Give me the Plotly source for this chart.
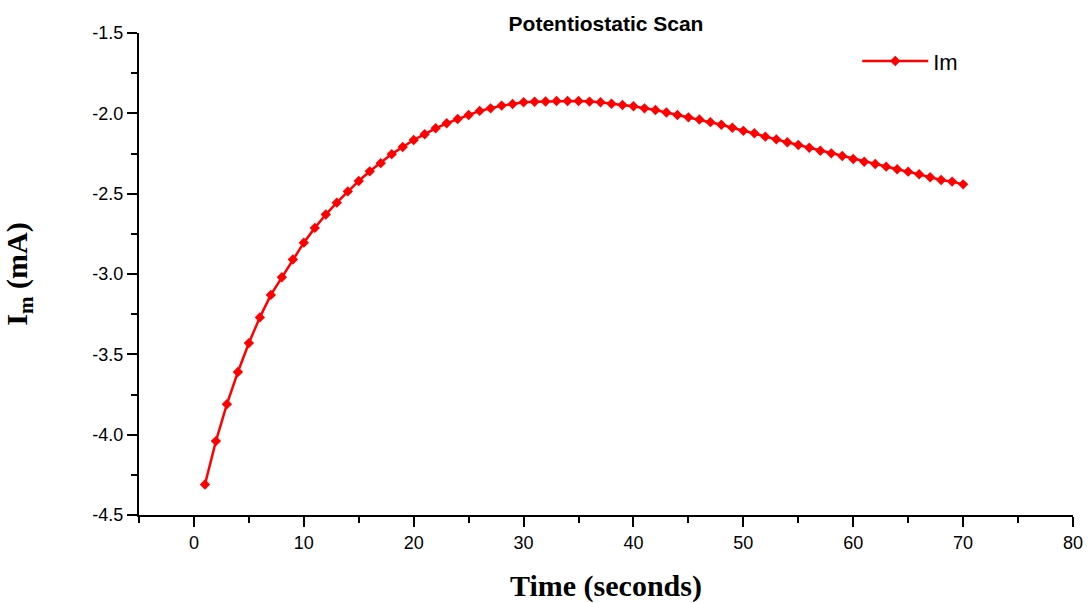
import plotly.graph_objects as go

time_s = [1, 2, 3, 4, 5, 6, 7, 8, 9, 10,
          11, 12, 13, 14, 15, 16, 17, 18, 19, 20,
          21, 22, 23, 24, 25, 26, 27, 28, 29, 30,
          31, 32, 33, 34, 35, 36, 37, 38, 39, 40,
          41, 42, 43, 44, 45, 46, 47, 48, 49, 50,
          51, 52, 53, 54, 55, 56, 57, 58, 59, 60,
          61, 62, 63, 64, 65, 66, 67, 68, 69, 70]
im_mA = [-4.31, -4.04, -3.81, -3.61, -3.43, -3.27, -3.13, -3.02, -2.91, -2.805,
         -2.713, -2.630, -2.556, -2.486, -2.421, -2.361, -2.310, -2.254, -2.210, -2.166,
         -2.130, -2.093, -2.062, -2.035, -2.010, -1.985, -1.969, -1.952, -1.942, -1.931,
         -1.928, -1.926, -1.923, -1.923, -1.923, -1.927, -1.931, -1.940, -1.948, -1.956,
         -1.969, -1.979, -1.995, -2.010, -2.025, -2.038, -2.055, -2.071, -2.090, -2.109,
         -2.124, -2.145, -2.162, -2.180, -2.197, -2.214, -2.233, -2.249, -2.266, -2.284,
         -2.301, -2.315, -2.332, -2.348, -2.363, -2.379, -2.398, -2.415, -2.425, -2.442]

y_tick_vals = [-4.5, -4.0, -3.5, -3.0, -2.5, -2.0, -1.5]
y_tick_text = ["-4.5", "-4.0", "-3.5", "-3.0", "-2.5", "-2.0", "-1.5"]
x_tick_vals = [0, 10, 20, 30, 40, 50, 60, 70, 80]
x_tick_text = ["0", "10", "20", "30", "40", "50", "60", "70", "80"]

fig = go.Figure()
fig.add_trace(go.Scatter(
    x=time_s, y=im_mA, mode="lines+markers", name="Im",
    line=dict(color="#FF0000", width=2.5),
    marker=dict(symbol="diamond", size=8, color="#FF0000"),
))

axis_common = dict(
    showgrid=False, zeroline=False, showline=True, linecolor="black", linewidth=2,
    ticks="outside", ticklen=10, tickwidth=2, tickcolor="black", automargin=False,
    tickfont=dict(family="Liberation Sans, Arial", size=18, color="black"),
)

fig.update_layout(
    width=1088, height=603,
    margin=dict(l=139, r=15, t=33, b=88),
    paper_bgcolor="white", plot_bgcolor="white",
    title=dict(text="<b>Potentiostatic Scan</b>", x=0.557, xanchor="center", y=0.96, yanchor="middle",
               font=dict(family="Liberation Sans, Arial", size=21, color="black")),
    xaxis=dict(range=[-5, 80], tickmode="array", tickvals=x_tick_vals, ticktext=x_tick_text,
               minor=dict(dtick=5, tick0=0, ticks="outside", ticklen=6, tickwidth=2, tickcolor="black"),
               title=dict(text="<b>Time (seconds)</b>", standoff=30,
                          font=dict(family="Liberation Serif, Times New Roman", size=30, color="black")),
               **axis_common),
    yaxis=dict(range=[-4.5, -1.5], tickmode="array", tickvals=y_tick_vals, ticktext=y_tick_text,
               minor=dict(dtick=0.25, tick0=-4.5, ticks="outside", ticklen=6, tickwidth=2, tickcolor="black"),
               title=dict(text="<b>I<sub>m</sub> (mA)</b>", standoff=57,
                          font=dict(family="Liberation Serif, Times New Roman", size=30, color="black")),
               **axis_common),
    showlegend=True,
    legend=dict(x=0.769, y=0.985, xanchor="left", yanchor="top", bgcolor="rgba(0,0,0,0)",
                itemwidth=66,
                font=dict(family="Liberation Sans, Arial", size=22, color="black")),
)

fig.write_html("out.html")
